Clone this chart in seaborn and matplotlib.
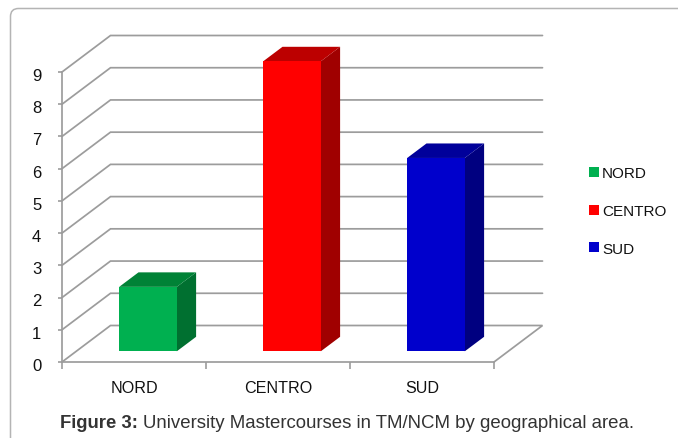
import matplotlib
matplotlib.use("Agg")
import matplotlib.pyplot as plt
import seaborn as sns
import pandas as pd
from matplotlib.patches import Polygon, FancyBboxPatch
from matplotlib.transforms import Affine2D, ScaledTranslation

regions = ["NORD", "CENTRO", "SUD"]
courses = [2, 9, 6]
front_colors = ["#00B050", "#FF0000", "#0000CC"]
side_colors = ["#007030", "#A00000", "#000080"]
top_colors = ["#008236", "#BC0000", "#00009A"]
y_ticks = list(range(10))
caption_bold = "Figure 3:"
caption_rest = "University Mastercourses in TM/NCM by geographical area."

W, H = 678, 439
sns.set_theme(style="white", rc={"font.family": ["Liberation Sans", "DejaVu Sans"]})
plt.rcParams["font.family"] = ["Liberation Sans", "DejaVu Sans"]
fig = plt.figure(figsize=(W / 100, H / 100), dpi=100, facecolor="white")
ax = fig.add_axes([62 / W, (H - 363) / H, (494 - 62) / W, (363 - 73) / H])
df = pd.DataFrame({"region": regions, "courses": courses})
sns.barplot(data=df, x="region", y="courses", hue="region", hue_order=regions,
            palette=front_colors, dodge=False, width=0.4, ax=ax, legend=True,
            saturation=1, linewidth=0)
ax.set_xlim(-0.5, 2.5)
ax.set_ylim(0, 9)

# depth offsets in data units (category widths, value units)
px_x = 1 / 144
px_y = 9 / 290
wall_dx, wall_dy = 48.5 * px_x, 36.5 * px_y
bar_sx, bar_sy = 14 * px_x, 10.7 * px_y
bar_dx, bar_dy = 19.3 * px_x, 14.5 * px_y

grid = "#9c9c9c"
x_left, x_right = -0.5, 2.5
for v in y_ticks:
    xs = [x_left, x_left + wall_dx, x_right + wall_dx]
    ys = [v, v + wall_dy, v + wall_dy]
    if v == 0:
        xs.append(x_right)
        ys.append(0)
    ax.plot(xs, ys, color=grid, lw=1.25, clip_on=False, zorder=1,
            solid_joinstyle="miter")

shift = Affine2D().translate(bar_sx, bar_sy) + ax.transData
bars = [b for c in ax.containers for b in c if b.get_height() > 0]
for patch in bars:
    i = int(round(patch.get_x() + patch.get_width() / 2))
    patch.set_transform(shift)
    patch.set_zorder(4)
    patch.set_clip_on(False)
    x0, w, h = patch.get_x(), patch.get_width(), patch.get_height()
    x0 += bar_sx
    x1 = x0 + w
    y0, y1 = bar_sy, bar_sy + h
    side = [(x1, y0), (x1 + bar_dx, y0 + bar_dy), (x1 + bar_dx, y1 + bar_dy), (x1, y1)]
    top = [(x0, y1), (x0 + bar_dx, y1 + bar_dy), (x1 + bar_dx, y1 + bar_dy), (x1, y1)]
    ax.add_patch(Polygon(side, closed=True, fc=side_colors[i], ec="none", zorder=3, clip_on=False))
    ax.add_patch(Polygon(top, closed=True, fc=top_colors[i], ec="none", zorder=3, clip_on=False))

sns.despine(ax=ax, top=True, right=True)
for s in ("left", "bottom"):
    ax.spines[s].set_color(grid)
    ax.spines[s].set_linewidth(1.25)
ax.set_xlabel("")
ax.set_ylabel("")
ax.set_yticks(y_ticks)
ax.set_xticks([0, 1, 2])
ax.set_xticklabels(regions)
ax.set_xticks([-0.5, 0.5, 1.5, 2.5], minor=True)
ax.tick_params(axis="x", which="major", length=0, pad=13, labelsize=11.6, labelcolor="#111111")
ax.tick_params(axis="x", which="minor", length=5, width=1.2, color=grid, bottom=True)
ax.tick_params(axis="y", length=3, width=1.2, color=grid, pad=12, labelsize=12, labelcolor="#111111", left=True)
down = ScaledTranslation(0, -1.4 / 72, fig.dpi_scale_trans)
for lab in ax.get_yticklabels():
    lab.set_transform(lab.get_transform() + down)

sns.move_legend(ax, "center left", bbox_to_anchor=(589 / W, (H - 212) / H),
                bbox_transform=fig.transFigure, title=None, frameon=False,
                fontsize=11, labelspacing=1.55, handlelength=0.65, handleheight=0.65,
                handletextpad=0.2, borderpad=0, borderaxespad=0)
for t in ax.get_legend().get_texts():
    t.set_color("#111111")

# outer rounded frame, running off the right and bottom of the image
frame = FancyBboxPatch((10.5, -30), W + 30, H + 30 - 9.5,
                       boxstyle="round,pad=0,rounding_size=8",
                       transform=Affine2D().scale(1 / W, 1 / H) + fig.transFigure,
                       fc="none", ec="#b4b4b4", lw=1.1, clip_on=True)
fig.add_artist(frame)

fig.text(60 / W, (H - 428) / H, caption_bold, fontsize=13.3, fontweight="bold",
         color="#333333", ha="left", va="baseline")
fig.text(143 / W, (H - 428) / H, caption_rest, fontsize=13.43,
         color="#333333", ha="left", va="baseline")
fig.savefig("out.png", dpi=100)
